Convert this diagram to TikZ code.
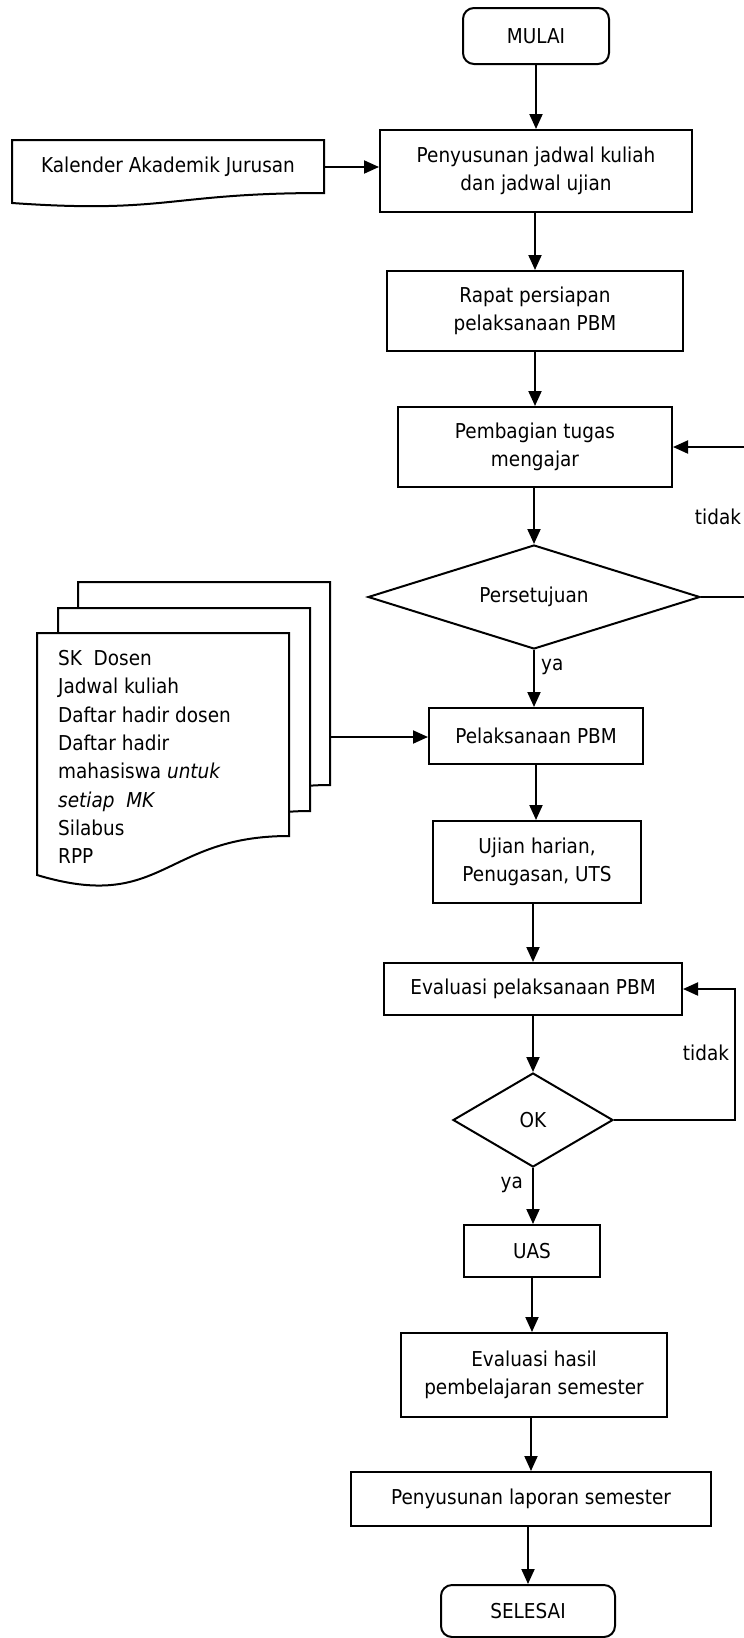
\documentclass[tikz,border=0pt]{standalone}
\usepackage{fontspec}
\setmainfont{DejaVu Sans}[FakeStretch=0.9]
\usetikzlibrary{arrows.meta,shapes.geometric}

\begin{document}
\begin{tikzpicture}[x=1pt,y=-1pt,
  every node/.style={font=\fontsize{20.5}{28.5}\selectfont, inner sep=0pt},
  box/.style={draw, line width=2pt, align=center},
  term/.style={box, rounded corners=11pt},
  decision/.style={draw, line width=2pt, diamond},
  outline/.style={line width=2pt},
  arr/.style={line width=2pt, -{Triangle[length=15pt,width=13pt]}},
  lbl/.style={font=\fontsize{20.5}{24}\selectfont}]

\useasboundingbox (0,0) rectangle (744,1638);
\fill[white] (0,0) rectangle (744,1638);
\clip (0,0) rectangle (744,1638);

% main column of steps
\node[term, minimum width=146pt, minimum height=56pt] (mulai) at (536,36) {MULAI};
\node[box, minimum width=312pt, minimum height=82pt] (jadwal) at (536,171) {Penyusunan jadwal kuliah\\dan jadwal ujian};
\node[box, minimum width=296pt, minimum height=80pt] (rapat) at (535,311) {Rapat persiapan\\pelaksanaan PBM};
\node[box, minimum width=274pt, minimum height=80pt] (bagi) at (535,447) {Pembagian tugas\\mengajar};
\node[decision, minimum width=332pt, minimum height=104pt, aspect=3.2] (setuju) at (534,597) {Persetujuan};
\node[box, minimum width=214pt, minimum height=56pt] (pbm) at (536,736) {Pelaksanaan PBM};
\node[box, minimum width=208pt, minimum height=82pt] (ujian) at (537,862) {Ujian harian,\\Penugasan, UTS};
\node[box, minimum width=298pt, minimum height=52pt] (evpbm) at (533,989) {Evaluasi pelaksanaan PBM};
\node[decision, minimum width=160pt, minimum height=94pt, aspect=1.7] (ok) at (533,1120) {OK};
\node[box, minimum width=136pt, minimum height=52pt] (uas) at (532,1251) {UAS};
\node[box, minimum width=266pt, minimum height=84pt] (evhasil) at (534,1375) {Evaluasi hasil\\pembelajaran semester};
\node[box, minimum width=360pt, minimum height=54pt] (lapor) at (531,1499) {Penyusunan laporan semester};
\node[term, minimum width=174pt, minimum height=52pt] (selesai) at (528,1611) {SELESAI};

% input document: academic calendar
\draw[outline] (12,140) -- (324,140) -- (324,193)
  .. controls (168,193) and (168,214) .. (12,203) -- cycle;
\node[minimum width=312pt] (kal) at (168,167) {Kalender Akademik Jurusan};

% stack of teaching documents, back to front
\foreach \dx/\dy in {41/-51, 21/-25, 0/0} {
  \draw[outline, fill=white, shift={(\dx,\dy)}] (37,633) -- (289,633) -- (289,836)
    .. controls (163,836) and (163,913) .. (37,875) -- cycle;
}
\node[align=left, anchor=west, font=\fontsize{20.5}{28.3}\selectfont] (doktext) at (58,757)
  {SK~~Dosen\\Jadwal kuliah\\Daftar hadir dosen\\Daftar hadir\\mahasiswa \textit{untuk}\\\textit{setiap~~MK}\\Silabus\\RPP};
\coordinate (dokout) at (331,737);

% connectors
\draw[arr] (mulai.south) -- (mulai.south |- jadwal.north);
\draw[arr] (kal.east) -- (kal.east -| jadwal.west);
\draw[arr] (jadwal.south -| rapat.north) -- (rapat.north);
\draw[arr] (rapat.south -| bagi.north) -- (bagi.north);
\draw[arr] (bagi.south -| setuju.north) -- (setuju.north);
\draw[arr] (setuju.east) -- ++(60,0) |- (bagi.east);
\draw[arr] (setuju.south) -- (setuju.south |- pbm.north);
\draw[arr] (dokout) -- (dokout -| pbm.west);
\draw[arr] (pbm.south) -- (pbm.south |- ujian.north);
\draw[arr] (ujian.south -| evpbm.north) -- (evpbm.north);
\draw[arr] (evpbm.south) -- (evpbm.south |- ok.north);
\draw[arr] (ok.east) -- ++(121,0) |- (evpbm.east);
\draw[arr] (ok.south) -- (ok.south |- uas.north);
\draw[arr] (uas.south) -- (uas.south |- evhasil.north);
\draw[arr] (evhasil.south -| lapor.north) -- (lapor.north);
\draw[arr] (lapor.south -| selesai.north) -- (selesai.north);

% connector labels
\node[lbl] (tidak1) at (718,517) {tidak};
\node[lbl, anchor=west] (ya1) at (541,667) {ya};
\node[lbl] (tidak2) at (706,1053) {tidak};
\node[lbl, anchor=east] (ya2) at (523,1185) {ya};

\end{tikzpicture}
\end{document}
